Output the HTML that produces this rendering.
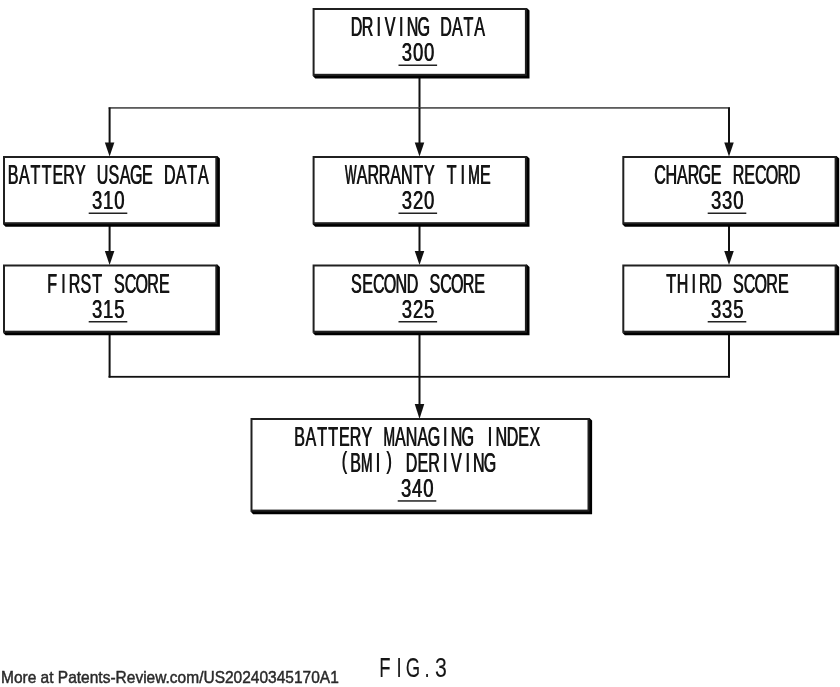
<!DOCTYPE html>
<html><head><meta charset="utf-8"><title>FIG.3</title>
<style>html,body{margin:0;padding:0;background:#fff;width:840px;height:687px;overflow:hidden}svg{display:block;will-change:transform}</style>
</head><body>
<svg width="840" height="687" viewBox="0 0 840 687">
<rect width="840" height="687" fill="#fff"/>
<rect x="418.5" y="78" width="2.0" height="30" fill="#111"/><rect x="108.6" y="107.0" width="621.4" height="1.8" fill="#5c5c5c"/><rect x="108.6" y="107.5" width="2.0" height="42.5" fill="#111"/><path d="M104.85 142.5 L114.35 142.5 L109.6 156.5 Z" fill="#111"/><rect x="108.6" y="226" width="2.0" height="32" fill="#111"/><path d="M104.85 251 L114.35 251 L109.6 265 Z" fill="#111"/><rect x="418.5" y="107.5" width="2.0" height="42.5" fill="#111"/><path d="M414.75 142.5 L424.25 142.5 L419.5 156.5 Z" fill="#111"/><rect x="418.5" y="226" width="2.0" height="32" fill="#111"/><path d="M414.75 251 L424.25 251 L419.5 265 Z" fill="#111"/><rect x="728.0" y="107.5" width="2.0" height="42.5" fill="#111"/><path d="M724.25 142.5 L733.75 142.5 L729.0 156.5 Z" fill="#111"/><rect x="728.0" y="226" width="2.0" height="32" fill="#111"/><path d="M724.25 251 L733.75 251 L729.0 265 Z" fill="#111"/><rect x="108.6" y="334" width="2.0" height="43.5" fill="#111"/><rect x="728.0" y="334" width="2.0" height="43.5" fill="#111"/><rect x="108.6" y="375.90000000000003" width="621.4" height="1.8" fill="#111"/><rect x="418.5" y="334" width="2.0" height="76" fill="#111"/><path d="M414.75 404.0 L424.25 404.0 L419.5 419.0 Z" fill="#111"/><path d="M217.3 156.0 L219.9 158.6 L219.9 226.79999999999998 L5.6 226.79999999999998 L3.0 224.2 Z" fill="#000"/><rect x="3.0" y="156.0" width="214.3" height="68.2" fill="#202020"/><rect x="5.0" y="158.0" width="210.3" height="64.2" fill="#fff"/><path d="M526.9000000000001 156.0 L529.5000000000001 158.6 L529.5000000000001 226.79999999999998 L315.20000000000005 226.79999999999998 L312.6 224.2 Z" fill="#000"/><rect x="312.6" y="156.0" width="214.3" height="68.2" fill="#202020"/><rect x="314.6" y="158.0" width="210.3" height="64.2" fill="#fff"/><path d="M836.5999999999999 156.0 L839.1999999999999 158.6 L839.1999999999999 226.79999999999998 L624.9 226.79999999999998 L622.3 224.2 Z" fill="#000"/><rect x="622.3" y="156.0" width="214.3" height="68.2" fill="#202020"/><rect x="624.3" y="158.0" width="210.3" height="64.2" fill="#fff"/><path d="M217.3 264.5 L219.9 267.1 L219.9 335.3 L5.6 335.3 L3.0 332.7 Z" fill="#000"/><rect x="3.0" y="264.5" width="214.3" height="68.2" fill="#202020"/><rect x="5.0" y="266.5" width="210.3" height="64.2" fill="#fff"/><path d="M526.9000000000001 264.5 L529.5000000000001 267.1 L529.5000000000001 335.3 L315.20000000000005 335.3 L312.6 332.7 Z" fill="#000"/><rect x="312.6" y="264.5" width="214.3" height="68.2" fill="#202020"/><rect x="314.6" y="266.5" width="210.3" height="64.2" fill="#fff"/><path d="M836.5999999999999 264.5 L839.1999999999999 267.1 L839.1999999999999 335.3 L624.9 335.3 L622.3 332.7 Z" fill="#000"/><rect x="622.3" y="264.5" width="214.3" height="68.2" fill="#202020"/><rect x="624.3" y="266.5" width="210.3" height="64.2" fill="#fff"/><path d="M526.9000000000001 8.0 L529.5000000000001 10.6 L529.5000000000001 78.39999999999999 L315.20000000000005 78.39999999999999 L312.6 75.8 Z" fill="#000"/><rect x="312.6" y="8.0" width="214.3" height="67.8" fill="#202020"/><rect x="314.6" y="10.0" width="210.3" height="63.8" fill="#fff"/><path d="M589.5 418.0 L592.1 420.6 L592.1 514.2 L253.1 514.2 L250.5 511.6 Z" fill="#000"/><rect x="250.5" y="418.0" width="339.0" height="93.6" fill="#202020"/><rect x="252.5" y="420.0" width="335.0" height="89.6" fill="#fff"/><rect x="398.5" y="64.5" width="38.60000000000002" height="1.5" fill="#222"/><rect x="88.7" y="212.5" width="38.599999999999994" height="1.5" fill="#222"/><rect x="398.5" y="212.5" width="38.60000000000002" height="1.5" fill="#222"/><rect x="707.7" y="212.5" width="38.59999999999991" height="1.5" fill="#222"/><rect x="88.7" y="321.0" width="38.599999999999994" height="1.5" fill="#222"/><rect x="398.5" y="321.0" width="38.60000000000002" height="1.5" fill="#222"/><rect x="707.7" y="321.0" width="38.59999999999991" height="1.5" fill="#222"/><rect x="397.7" y="500.2" width="38.60000000000002" height="1.5" fill="#222"/>
<g text-anchor="middle" fill="#151515" stroke="#151515" stroke-width="0.1" style="font-family:'Liberation Sans',sans-serif">
<g id="t">
<text transform="translate(356.20 36.00) scale(0.600 1)" font-size="26.8">D</text>
<text transform="translate(367.40 36.00) scale(0.600 1)" font-size="26.8">R</text>
<text transform="translate(378.60 36.00) scale(0.600 1)" font-size="26.8">I</text>
<text transform="translate(389.80 36.00) scale(0.600 1)" font-size="26.8">V</text>
<text transform="translate(401.00 36.00) scale(0.600 1)" font-size="26.8">I</text>
<text transform="translate(412.20 36.00) scale(0.600 1)" font-size="26.8">N</text>
<text transform="translate(423.40 36.00) scale(0.600 1)" font-size="26.8">G</text>
<text transform="translate(445.80 36.00) scale(0.600 1)" font-size="26.8">D</text>
<text transform="translate(457.00 36.00) scale(0.600 1)" font-size="26.8">A</text>
<text transform="translate(468.20 36.00) scale(0.600 1)" font-size="26.8">T</text>
<text transform="translate(479.40 36.00) scale(0.600 1)" font-size="26.8">A</text>
<text transform="translate(406.60 61.30) scale(0.717 1)" font-size="25.8">3</text>
<text transform="translate(417.80 61.30) scale(0.717 1)" font-size="25.8">0</text>
<text transform="translate(429.00 61.30) scale(0.717 1)" font-size="25.8">0</text>
<text transform="translate(12.80 184.00) scale(0.600 1)" font-size="26.8">B</text>
<text transform="translate(24.00 184.00) scale(0.600 1)" font-size="26.8">A</text>
<text transform="translate(35.20 184.00) scale(0.600 1)" font-size="26.8">T</text>
<text transform="translate(46.40 184.00) scale(0.600 1)" font-size="26.8">T</text>
<text transform="translate(57.60 184.00) scale(0.600 1)" font-size="26.8">E</text>
<text transform="translate(68.80 184.00) scale(0.600 1)" font-size="26.8">R</text>
<text transform="translate(80.00 184.00) scale(0.600 1)" font-size="26.8">Y</text>
<text transform="translate(102.40 184.00) scale(0.600 1)" font-size="26.8">U</text>
<text transform="translate(113.60 184.00) scale(0.600 1)" font-size="26.8">S</text>
<text transform="translate(124.80 184.00) scale(0.600 1)" font-size="26.8">A</text>
<text transform="translate(136.00 184.00) scale(0.600 1)" font-size="26.8">G</text>
<text transform="translate(147.20 184.00) scale(0.600 1)" font-size="26.8">E</text>
<text transform="translate(169.60 184.00) scale(0.600 1)" font-size="26.8">D</text>
<text transform="translate(180.80 184.00) scale(0.600 1)" font-size="26.8">A</text>
<text transform="translate(192.00 184.00) scale(0.600 1)" font-size="26.8">T</text>
<text transform="translate(203.20 184.00) scale(0.600 1)" font-size="26.8">A</text>
<text transform="translate(96.80 209.30) scale(0.717 1)" font-size="25.8">3</text>
<text transform="translate(108.00 209.30) scale(0.717 1)" font-size="25.8">1</text>
<text transform="translate(119.20 209.30) scale(0.717 1)" font-size="25.8">0</text>
<text transform="translate(350.60 184.00) scale(0.456 1)" font-size="26.8">W</text>
<text transform="translate(361.80 184.00) scale(0.600 1)" font-size="26.8">A</text>
<text transform="translate(373.00 184.00) scale(0.600 1)" font-size="26.8">R</text>
<text transform="translate(384.20 184.00) scale(0.600 1)" font-size="26.8">R</text>
<text transform="translate(395.40 184.00) scale(0.600 1)" font-size="26.8">A</text>
<text transform="translate(406.60 184.00) scale(0.600 1)" font-size="26.8">N</text>
<text transform="translate(417.80 184.00) scale(0.600 1)" font-size="26.8">T</text>
<text transform="translate(429.00 184.00) scale(0.600 1)" font-size="26.8">Y</text>
<text transform="translate(451.40 184.00) scale(0.600 1)" font-size="26.8">T</text>
<text transform="translate(462.60 184.00) scale(0.600 1)" font-size="26.8">I</text>
<text transform="translate(473.80 184.00) scale(0.516 1)" font-size="26.8">M</text>
<text transform="translate(485.00 184.00) scale(0.600 1)" font-size="26.8">E</text>
<text transform="translate(406.60 209.30) scale(0.717 1)" font-size="25.8">3</text>
<text transform="translate(417.80 209.30) scale(0.717 1)" font-size="25.8">2</text>
<text transform="translate(429.00 209.30) scale(0.717 1)" font-size="25.8">0</text>
<text transform="translate(659.80 184.00) scale(0.600 1)" font-size="26.8">C</text>
<text transform="translate(671.00 184.00) scale(0.600 1)" font-size="26.8">H</text>
<text transform="translate(682.20 184.00) scale(0.600 1)" font-size="26.8">A</text>
<text transform="translate(693.40 184.00) scale(0.600 1)" font-size="26.8">R</text>
<text transform="translate(704.60 184.00) scale(0.600 1)" font-size="26.8">G</text>
<text transform="translate(715.80 184.00) scale(0.600 1)" font-size="26.8">E</text>
<text transform="translate(738.20 184.00) scale(0.600 1)" font-size="26.8">R</text>
<text transform="translate(749.40 184.00) scale(0.600 1)" font-size="26.8">E</text>
<text transform="translate(760.60 184.00) scale(0.600 1)" font-size="26.8">C</text>
<text transform="translate(771.80 184.00) scale(0.600 1)" font-size="26.8">O</text>
<text transform="translate(783.00 184.00) scale(0.600 1)" font-size="26.8">R</text>
<text transform="translate(794.20 184.00) scale(0.600 1)" font-size="26.8">D</text>
<text transform="translate(715.80 209.30) scale(0.717 1)" font-size="25.8">3</text>
<text transform="translate(727.00 209.30) scale(0.717 1)" font-size="25.8">3</text>
<text transform="translate(738.20 209.30) scale(0.717 1)" font-size="25.8">0</text>
<text transform="translate(52.00 292.50) scale(0.600 1)" font-size="26.8">F</text>
<text transform="translate(63.20 292.50) scale(0.600 1)" font-size="26.8">I</text>
<text transform="translate(74.40 292.50) scale(0.600 1)" font-size="26.8">R</text>
<text transform="translate(85.60 292.50) scale(0.600 1)" font-size="26.8">S</text>
<text transform="translate(96.80 292.50) scale(0.600 1)" font-size="26.8">T</text>
<text transform="translate(119.20 292.50) scale(0.600 1)" font-size="26.8">S</text>
<text transform="translate(130.40 292.50) scale(0.600 1)" font-size="26.8">C</text>
<text transform="translate(141.60 292.50) scale(0.600 1)" font-size="26.8">O</text>
<text transform="translate(152.80 292.50) scale(0.600 1)" font-size="26.8">R</text>
<text transform="translate(164.00 292.50) scale(0.600 1)" font-size="26.8">E</text>
<text transform="translate(96.80 317.80) scale(0.717 1)" font-size="25.8">3</text>
<text transform="translate(108.00 317.80) scale(0.717 1)" font-size="25.8">1</text>
<text transform="translate(119.20 317.80) scale(0.717 1)" font-size="25.8">5</text>
<text transform="translate(356.20 292.50) scale(0.600 1)" font-size="26.8">S</text>
<text transform="translate(367.40 292.50) scale(0.600 1)" font-size="26.8">E</text>
<text transform="translate(378.60 292.50) scale(0.600 1)" font-size="26.8">C</text>
<text transform="translate(389.80 292.50) scale(0.600 1)" font-size="26.8">O</text>
<text transform="translate(401.00 292.50) scale(0.600 1)" font-size="26.8">N</text>
<text transform="translate(412.20 292.50) scale(0.600 1)" font-size="26.8">D</text>
<text transform="translate(434.60 292.50) scale(0.600 1)" font-size="26.8">S</text>
<text transform="translate(445.80 292.50) scale(0.600 1)" font-size="26.8">C</text>
<text transform="translate(457.00 292.50) scale(0.600 1)" font-size="26.8">O</text>
<text transform="translate(468.20 292.50) scale(0.600 1)" font-size="26.8">R</text>
<text transform="translate(479.40 292.50) scale(0.600 1)" font-size="26.8">E</text>
<text transform="translate(406.60 317.80) scale(0.717 1)" font-size="25.8">3</text>
<text transform="translate(417.80 317.80) scale(0.717 1)" font-size="25.8">2</text>
<text transform="translate(429.00 317.80) scale(0.717 1)" font-size="25.8">5</text>
<text transform="translate(671.00 292.50) scale(0.600 1)" font-size="26.8">T</text>
<text transform="translate(682.20 292.50) scale(0.600 1)" font-size="26.8">H</text>
<text transform="translate(693.40 292.50) scale(0.600 1)" font-size="26.8">I</text>
<text transform="translate(704.60 292.50) scale(0.600 1)" font-size="26.8">R</text>
<text transform="translate(715.80 292.50) scale(0.600 1)" font-size="26.8">D</text>
<text transform="translate(738.20 292.50) scale(0.600 1)" font-size="26.8">S</text>
<text transform="translate(749.40 292.50) scale(0.600 1)" font-size="26.8">C</text>
<text transform="translate(760.60 292.50) scale(0.600 1)" font-size="26.8">O</text>
<text transform="translate(771.80 292.50) scale(0.600 1)" font-size="26.8">R</text>
<text transform="translate(783.00 292.50) scale(0.600 1)" font-size="26.8">E</text>
<text transform="translate(715.80 317.80) scale(0.717 1)" font-size="25.8">3</text>
<text transform="translate(727.00 317.80) scale(0.717 1)" font-size="25.8">3</text>
<text transform="translate(738.20 317.80) scale(0.717 1)" font-size="25.8">5</text>
<text transform="translate(299.40 445.90) scale(0.600 1)" font-size="26.8">B</text>
<text transform="translate(310.60 445.90) scale(0.600 1)" font-size="26.8">A</text>
<text transform="translate(321.80 445.90) scale(0.600 1)" font-size="26.8">T</text>
<text transform="translate(333.00 445.90) scale(0.600 1)" font-size="26.8">T</text>
<text transform="translate(344.20 445.90) scale(0.600 1)" font-size="26.8">E</text>
<text transform="translate(355.40 445.90) scale(0.600 1)" font-size="26.8">R</text>
<text transform="translate(366.60 445.90) scale(0.600 1)" font-size="26.8">Y</text>
<text transform="translate(389.00 445.90) scale(0.516 1)" font-size="26.8">M</text>
<text transform="translate(400.20 445.90) scale(0.600 1)" font-size="26.8">A</text>
<text transform="translate(411.40 445.90) scale(0.600 1)" font-size="26.8">N</text>
<text transform="translate(422.60 445.90) scale(0.600 1)" font-size="26.8">A</text>
<text transform="translate(433.80 445.90) scale(0.600 1)" font-size="26.8">G</text>
<text transform="translate(445.00 445.90) scale(0.600 1)" font-size="26.8">I</text>
<text transform="translate(456.20 445.90) scale(0.600 1)" font-size="26.8">N</text>
<text transform="translate(467.40 445.90) scale(0.600 1)" font-size="26.8">G</text>
<text transform="translate(489.80 445.90) scale(0.600 1)" font-size="26.8">I</text>
<text transform="translate(501.00 445.90) scale(0.600 1)" font-size="26.8">N</text>
<text transform="translate(512.20 445.90) scale(0.600 1)" font-size="26.8">D</text>
<text transform="translate(523.40 445.90) scale(0.600 1)" font-size="26.8">E</text>
<text transform="translate(534.60 445.90) scale(0.600 1)" font-size="26.8">X</text>
<text transform="translate(344.20 468.90) scale(0.600 0.9)" font-size="26.8">(</text>
<text transform="translate(355.40 471.70) scale(0.600 1)" font-size="26.8">B</text>
<text transform="translate(366.60 471.70) scale(0.516 1)" font-size="26.8">M</text>
<text transform="translate(377.80 471.70) scale(0.600 1)" font-size="26.8">I</text>
<text transform="translate(389.00 468.90) scale(0.600 0.9)" font-size="26.8">)</text>
<text transform="translate(411.40 471.70) scale(0.600 1)" font-size="26.8">D</text>
<text transform="translate(422.60 471.70) scale(0.600 1)" font-size="26.8">E</text>
<text transform="translate(433.80 471.70) scale(0.600 1)" font-size="26.8">R</text>
<text transform="translate(445.00 471.70) scale(0.600 1)" font-size="26.8">I</text>
<text transform="translate(456.20 471.70) scale(0.600 1)" font-size="26.8">V</text>
<text transform="translate(467.40 471.70) scale(0.600 1)" font-size="26.8">I</text>
<text transform="translate(478.60 471.70) scale(0.600 1)" font-size="26.8">N</text>
<text transform="translate(489.80 471.70) scale(0.600 1)" font-size="26.8">G</text>
<text transform="translate(405.80 497.00) scale(0.717 1)" font-size="25.8">3</text>
<text transform="translate(417.00 497.00) scale(0.717 1)" font-size="25.8">4</text>
<text transform="translate(428.20 497.00) scale(0.717 1)" font-size="25.8">0</text>
</g>
<use href="#t" transform="translate(0.5 0)"/>
<text transform="translate(385.00 677.00) scale(0.660 1)" font-size="28.0">F</text>
<text transform="translate(399.00 677.00) scale(0.660 1)" font-size="28.0">I</text>
<text transform="translate(413.00 677.00) scale(0.660 1)" font-size="28.0">G</text>
<text transform="translate(427.00 677.00) scale(0.660 1)" font-size="28.0">.</text>
<text transform="translate(441.00 677.00) scale(0.759 1)" font-size="28.0">3</text>
</g>
<text transform="translate(1 683) scale(0.969 1)" font-size="16" fill="#2a2a2a" stroke="#2a2a2a" stroke-width="0.45" style="font-family:'Liberation Sans',sans-serif">More at Patents-Review.com/US20240345170A1</text>
</svg>
</body></html>
